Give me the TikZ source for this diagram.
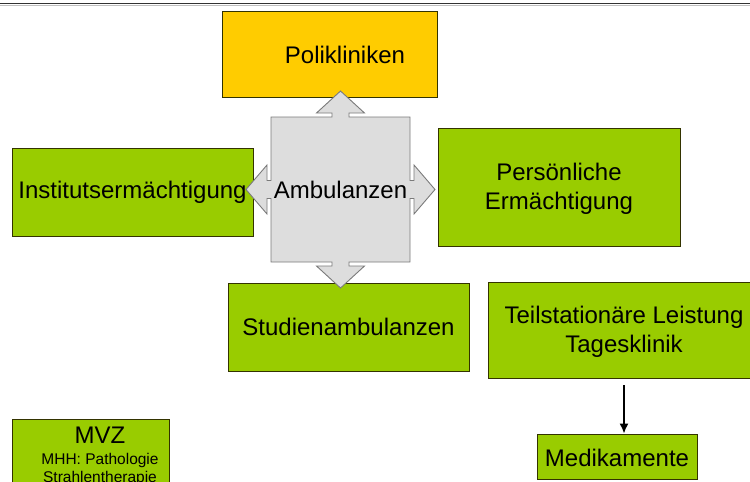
\documentclass[tikz,border=0pt]{standalone}
\usepackage{fontspec}
\setmainfont{Liberation Sans}
\usetikzlibrary{arrows.meta,calc}
\definecolor{boxgreen}{HTML}{99CC00}
\definecolor{boxyellow}{HTML}{FFCC00}
\definecolor{boxedge}{HTML}{333300}
\definecolor{ambfill}{HTML}{DDDDDD}
\definecolor{ambedge}{HTML}{7A7A7A}
\tikzset{
  gbox/.style={draw=boxedge, line width=0.9pt, fill=boxgreen, inner sep=0pt, align=center,
    font=\fontsize{24}{29.5}\selectfont},
  ybox/.style={gbox, fill=boxyellow},
  plain/.style={inner sep=0pt, align=center, font=\fontsize{24}{29.5}\selectfont},
  conn/.style={line width=1.6pt, -{Latex[length=10pt,width=9pt]}},
}
\begin{document}
\begin{tikzpicture}[x=1pt,y=-1pt]
\useasboundingbox (0,0) rectangle (750,482);
\clip (0,0) rectangle (750,482);
% top rule
\draw[line width=1pt, black!80] (0,3.3) -- (750,3.3);
\draw[line width=0.6pt, black!25] (0,4.8) -- (750,4.8);
% boxes
\node[ybox, minimum width=215pt, minimum height=86pt] (poli) at (329.5,54) {};
\node[plain] (polit) at (345,55) {Polikliniken};
\node[gbox, minimum width=241pt, minimum height=88pt] (inst) at (132.5,192) {Institutsermächtigung};
\node[gbox, minimum width=242pt, minimum height=118pt] (pers) at (559,187) {};
\node[plain] (perst) at (559,189) {Persönliche\\Ermächtigung};
\node[gbox, minimum width=241pt, minimum height=88pt] (stud) at (348.5,327) {Studienambulanzen};
\node[gbox, minimum width=272pt, minimum height=96pt] (teil) at (624,330) {};
\node[plain] (teilt) at (624,332) {Teilstationäre Leistung\\Tagesklinik};
\node[gbox, minimum width=160pt, minimum height=45pt] (med) at (617,456.5) {};
\node[plain] (medt) at (617,458) {Medikamente};
\node[gbox, minimum width=157pt, minimum height=90pt, anchor=north] (mvz) at (90.5,419) {};
\node[inner sep=0pt, anchor=base] (mvzt) at (100,443) {\fontsize{24}{24}\selectfont MVZ};
\node[inner sep=0pt, anchor=base, font=\fontsize{15.5}{18.5}\selectfont] (mvzs) at (100,464) {MHH: Pathologie};
\node[inner sep=0pt, anchor=base, font=\fontsize{15.5}{18.5}\selectfont] (mvzs2) at (100,482.5) {Strahlentherapie};
% Ambulanzen quad arrow
\begin{scope}[shift={(340.5,189.5)}]
\draw[fill=ambfill, draw=ambedge, line width=0.9pt, line join=miter]
  (-69.5,-72.5) -- (-8.5,-72.5) -- (-8.5,-76.5) -- (-24,-76.5) -- (0,-98.5) -- (24,-76.5) -- (8.5,-76.5) -- (8.5,-72.5)
  -- (69.5,-72.5) -- (69.5,-9) -- (73.5,-9) -- (73.5,-24.5) -- (94.5,0) -- (73.5,24.5) -- (73.5,9) -- (69.5,9)
  -- (69.5,72.5) -- (8.5,72.5) -- (8.5,76.5) -- (24,76.5) -- (0,98.5) -- (-24,76.5) -- (-8.5,76.5) -- (-8.5,72.5)
  -- (-69.5,72.5) -- (-69.5,9) -- (-73.5,9) -- (-73.5,24.5) -- (-94.5,0) -- (-73.5,-24.5) -- (-73.5,-9) -- (-69.5,-9) -- cycle;
\end{scope}
\node[plain] (amb) at (340.5,190) {Ambulanzen};
% connector
\coordinate (teilout) at ($(teil.south)+(0,7)$);
\draw[conn] (teilout) -- (teilout |- med.north);
\end{tikzpicture}
\end{document}
